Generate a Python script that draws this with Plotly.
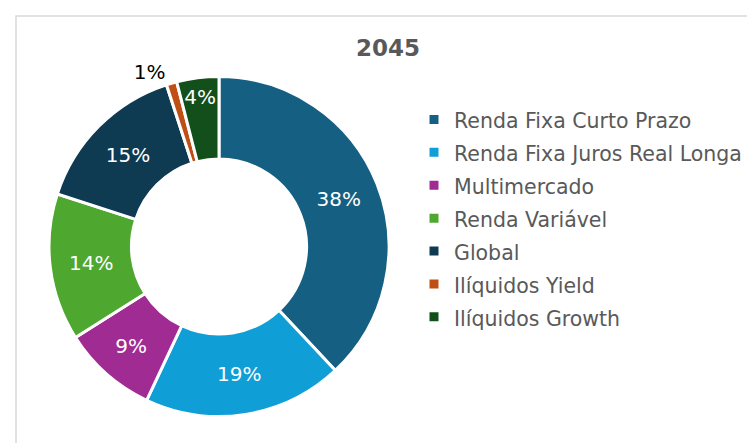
import plotly.graph_objects as go

categories = ["Renda Fixa Curto Prazo", "Renda Fixa Juros Real Longa", "Multimercado",
              "Renda Variável", "Global", "Ilíquidos Yield", "Ilíquidos Growth"]
values = [38, 19, 9, 14, 15, 1, 4]
colors = ["#156082", "#0F9ED5", "#A02B93", "#4EA72E", "#0E3A52", "#C04F15", "#124F1A"]
title_text = "2045"

W, H = 755, 443
cx, cy, r = 211, 238.5, 170
FONT = "DejaVu Sans"

textpos = ["inside"] * len(values)
textcol = ["white"] * len(values)
textpos[5] = "outside"
textcol[5] = "black"

legend_labels = ['<span style="font-size:20.5px">%s</span>' % c for c in categories]

fig = go.Figure(go.Pie(
    labels=legend_labels, values=values, sort=False, direction="clockwise", rotation=0,
    hole=0.515,
    marker=dict(colors=colors, line=dict(color="white", width=3)),
    texttemplate="%{percent:.0%}", textinfo="percent",
    textposition=textpos, insidetextorientation="horizontal",
    textfont=dict(color=textcol, size=20, family=FONT),
    domain=dict(x=[(cx - r) / W, (cx + r) / W], y=[(H - cy - r) / H, (H - cy + r) / H]),
    hoverinfo="percent",
))

fig.update_layout(
    width=W, height=H, margin=dict(l=0, r=0, t=0, b=0),
    paper_bgcolor="white", plot_bgcolor="white",
    font=dict(family=FONT, color="#595959"),
    uniformtext=dict(minsize=20, mode="show"),
    title=dict(text="<b>" + title_text + "</b>", x=380 / W, xanchor="center",
               y=1 - 40 / H, yanchor="middle", font=dict(size=23, color="#595959")),
    legend=dict(x=406 / W, xanchor="left", y=1 - 90 / H, yanchor="top",
                font=dict(size=23, color="#595959"), bgcolor="rgba(0,0,0,0)"),
    shapes=[dict(type="rect", xref="paper", yref="paper", x0=8 / W, x1=1.05, y0=-0.05,
                 y1=1 - 8 / H, line=dict(color="#D9D9D9", width=1.5))],
)

fig.write_html("out.html")
